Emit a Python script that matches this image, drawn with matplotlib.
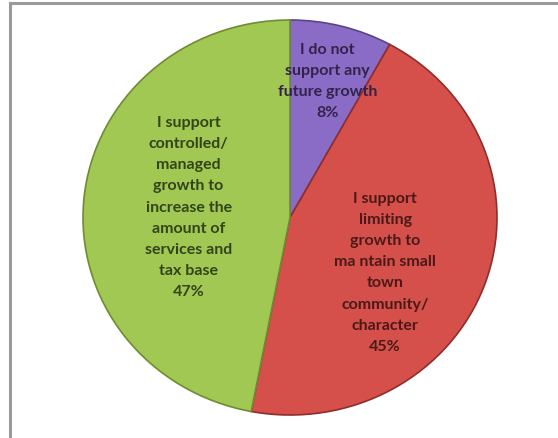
import matplotlib.pyplot as plt
from matplotlib.patches import Rectangle

# data
labels = [
    "I do not\nsupport any\nfuture growth",
    "I support\nlimiting\ngrowth to\nma ntain small\ntown\ncommunity/\ncharacter",
    "I support\ncontrolled/\nmanaged\ngrowth to\nincrease the\namount of\nservices and\ntax base",
]
shares = [8, 45, 47]

colors = ["#8a6cc6", "#d54f4b", "#a0c853"]
edge_colors = ["#5a4488", "#8e2e2c", "#6f8c33"]
text_colors = ["#33224a", "#4a1a18", "#33441a"]
# label centres in axes data units (-1..1)
label_pos = [(0.18, 0.69), (0.46, -0.28), (-0.49, 0.05)]

fig = plt.figure(figsize=(5.58, 4.38), dpi=100)
fig.patches.append(Rectangle((10 / 558, -0.1), 1.2, (438 - 3) / 438 + 0.1,
                             transform=fig.transFigure, fill=False,
                             edgecolor="#9a9a9a", linewidth=2.2))

ax = fig.add_axes([83 / 558, (438 - 415) / 438, 414 / 558, 395 / 438])
wedges, _ = ax.pie(shares, colors=colors, startangle=90, counterclock=False,
                   wedgeprops=dict(linewidth=1.2))
for w, ec in zip(wedges, edge_colors):
    w.set_edgecolor(ec)
ax.set_aspect("auto")
ax.set_xlim(-1, 1)
ax.set_ylim(-1, 1)
ax.axis("off")

for lab, val, (x, y), tc in zip(labels, shares, label_pos, text_colors):
    ax.text(x, y, f"{lab}\n{val}%", ha="center", va="center", color=tc,
            fontsize=11.5, family="Lato", weight="bold", linespacing=1.65)

fig.savefig("out.png", dpi=100)
